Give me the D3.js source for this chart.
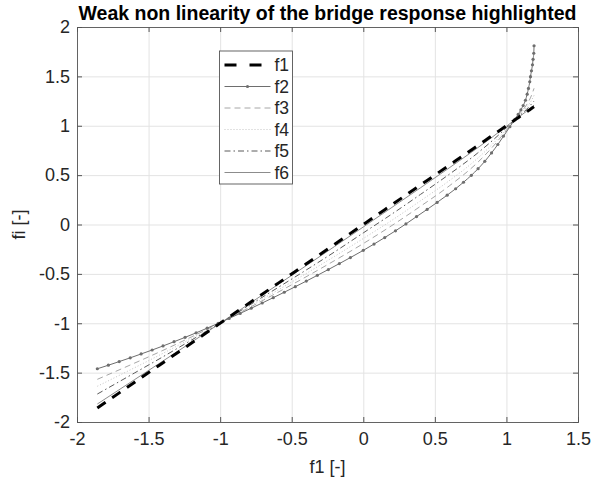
<!DOCTYPE html>
<html>
<head>
<meta charset="utf-8">
<script src="https://cdn.jsdelivr.net/npm/d3@7"></script>
<style>
  body { margin: 0; background: #fff; }
  svg { display: block; font-family: "Liberation Sans", Arial, sans-serif; }
</style>
</head>
<body>
<svg id="chart" width="600" height="483"></svg>
<script>
// f1 values (x axis) at the sampled points, f2 read at the same points
const f1 = [-1.858, -1.781, -1.705, -1.628, -1.552, -1.475, -1.399, -1.322, -1.245, -1.168,
  -1.091, -1.014, -0.937, -0.86, -0.783, -0.706, -0.629, -0.552, -0.475, -0.398,
  -0.321, -0.244, -0.167, -0.09, 0.0, 0.075, 0.15, 0.225, 0.298, 0.372,
  0.446, 0.516, 0.586, 0.645, 0.70, 0.755, 0.802, 0.849, 0.896, 0.94,
  0.98, 1.024, 1.059, 1.082, 1.101, 1.117, 1.133, 1.145, 1.154, 1.163,
  1.168, 1.175, 1.182, 1.186, 1.191, 1.193];
const f2 = [-1.461, -1.425, -1.388, -1.350, -1.311, -1.271, -1.230, -1.187, -1.143, -1.097,
  -1.050, -1.001, -0.951, -0.900, -0.848, -0.795, -0.741, -0.686, -0.630, -0.573,
  -0.515, -0.456, -0.396, -0.335, -0.262, -0.198, -0.132, -0.064, 0.006, 0.080,
  0.153, 0.224, 0.297, 0.362, 0.428, 0.498, 0.565, 0.640, 0.725, 0.810,
  0.895, 0.990, 1.065, 1.115, 1.160, 1.205, 1.258, 1.320, 1.378, 1.445,
  1.497, 1.557, 1.617, 1.673, 1.734, 1.810];

// the other curves, read on a coarser set of f1 values
const f1c = [-1.858, -1.6, -1.4, -1.2, -1.0, -0.8, -0.6, -0.4, -0.2, 0, 0.2, 0.4, 0.6, 0.8, 0.9, 1.0, 1.05, 1.1, 1.14, 1.17, 1.193];
const f3 = [-1.568, -1.405, -1.275, -1.138, -0.994, -0.845, -0.689, -0.530, -0.365, -0.193, -0.010, 0.185, 0.390, 0.630, 0.780, 0.955, 1.050, 1.135, 1.210, 1.290, 1.379];
const f4 = [-1.638, -1.452, -1.305, -1.153, -0.996, -0.834, -0.667, -0.497, -0.322, -0.142, 0.043, 0.240, 0.443, 0.672, 0.810, 0.966, 1.050, 1.122, 1.185, 1.245, 1.308];
const f5 = [-1.717, -1.505, -1.340, -1.170, -1.000, -0.821, -0.642, -0.462, -0.277, -0.085, 0.106, 0.305, 0.508, 0.725, 0.847, 0.980, 1.050, 1.112, 1.165, 1.212, 1.250];
const f6 = [-1.818, -1.573, -1.383, -1.192, -1.000, -0.806, -0.612, -0.418, -0.222, -0.025, 0.173, 0.372, 0.573, 0.778, 0.884, 0.994, 1.050, 1.103, 1.146, 1.180, 1.208];

const xTicks = [-2, -1.5, -1, -0.5, 0, 0.5, 1, 1.5];
const yTicks = [-2, -1.5, -1, -0.5, 0, 0.5, 1, 1.5, 2];

const margin = { left: 77, right: 22, top: 27, bottom: 61 };
const W = 600, H = 483;
const iw = W - margin.left - margin.right;
const ih = H - margin.top - margin.bottom;

const svg = d3.select("#chart");
const g = svg.append("g").attr("transform", `translate(${margin.left},${margin.top})`);

const x = d3.scaleLinear().domain([-2, 1.5]).range([0, iw]);
const y = d3.scaleLinear().domain([-2, 2]).range([ih, 0]);
const fmt = d => String(d);

// grid
g.append("g").attr("transform", `translate(0,${ih})`)
  .call(d3.axisBottom(x).tickValues(xTicks).tickSize(-ih).tickFormat(""))
  .call(a => a.select(".domain").remove())
  .selectAll("line").attr("stroke", "#e3e3e3");
g.append("g")
  .call(d3.axisLeft(y).tickValues(yTicks).tickSize(-iw).tickFormat(""))
  .call(a => a.select(".domain").remove())
  .selectAll("line").attr("stroke", "#e3e3e3");

// series
const styles = {
  f1: { color: "#000", width: 3, dash: "10,8" },
  f2: { color: "#6e6e6e", width: 1, dash: null },
  f3: { color: "#a6a6a6", width: 1, dash: "6,4" },
  f4: { color: "#c4c4c4", width: 1, dash: "1,2" },
  f5: { color: "#5a5a5a", width: 1, dash: "6,3,1.5,3" },
  f6: { color: "#8c8c8c", width: 1, dash: null }
};

const line = d3.line().x(d => x(d[0])).y(d => y(d[1])).curve(d3.curveMonotoneX);
const series = [
  ["f6", d3.zip(f1c, f6)],
  ["f4", d3.zip(f1c, f4)],
  ["f3", d3.zip(f1c, f3)],
  ["f5", d3.zip(f1c, f5)],
  ["f2", d3.zip(f1, f2)],
  ["f1", d3.zip(f1, f1)]
];
series.forEach(([name, pts]) => {
  const s = styles[name];
  g.append("path").datum(pts)
    .attr("fill", "none")
    .attr("stroke", s.color)
    .attr("stroke-width", s.width)
    .attr("stroke-dasharray", s.dash)
    .attr("d", line);
  if (name === "f2") {
    g.selectAll(".mk").data(pts).join("circle")
      .attr("class", "mk")
      .attr("cx", d => x(d[0])).attr("cy", d => y(d[1]))
      .attr("r", 1.6).attr("fill", s.color);
  }
});

// axes (inward ticks, box)
const axisColor = "#262626";
const axB = g.append("g").attr("transform", `translate(0,${ih})`)
  .call(d3.axisBottom(x).tickValues(xTicks).tickSize(-5).tickPadding(10).tickFormat(fmt));
const axL = g.append("g")
  .call(d3.axisLeft(y).tickValues(yTicks).tickSize(-5).tickPadding(7).tickFormat(fmt));
const axT = g.append("g")
  .call(d3.axisTop(x).tickValues(xTicks).tickSize(-5).tickFormat(""));
const axR = g.append("g").attr("transform", `translate(${iw},0)`)
  .call(d3.axisRight(y).tickValues(yTicks).tickSize(-5).tickFormat(""));
[axB, axL, axT, axR].forEach(a => {
  a.select(".domain").attr("stroke", "#555").attr("stroke-width", 0.9);
  a.selectAll("line").attr("stroke", "#555");
  a.selectAll("text").attr("fill", axisColor).style("font-size", "18px")
    .style("font-family", '"Liberation Sans", Arial, sans-serif');
});
axB.selectAll("text").attr("dy", "0.7em");

// labels
svg.append("text").attr("x", margin.left + iw / 2).attr("y", 20)
  .attr("text-anchor", "middle").attr("font-weight", "bold").attr("font-size", 19.5)
  .attr("fill", "#000").text("Weak non linearity of the bridge response highlighted");
svg.append("text").attr("x", margin.left + iw / 2).attr("y", 473)
  .attr("text-anchor", "middle").attr("font-size", 18).attr("fill", axisColor).text("f1 [-]");
svg.append("text").attr("transform", `translate(25,${margin.top + ih / 2}) rotate(-90)`)
  .attr("text-anchor", "middle").attr("font-size", 18).attr("fill", axisColor).text("fi [-]");

// legend
const names = ["f1", "f2", "f3", "f4", "f5", "f6"];
const lg = svg.append("g").attr("transform", "translate(219.5,51)");
lg.append("rect").attr("width", 73).attr("height", 133)
  .attr("fill", "#fff").attr("stroke", "#555").attr("stroke-width", 0.9);
names.forEach((n, i) => {
  const s = styles[n];
  const yy = 14 + i * 21.5;
  lg.append("line").attr("x1", 5).attr("x2", 51).attr("y1", yy).attr("y2", yy)
    .attr("stroke", s.color).attr("stroke-width", s.width)
    .attr("stroke-dasharray", n === "f1" ? "12,13" : s.dash);
  if (n === "f2") lg.append("circle").attr("cx", 28).attr("cy", yy).attr("r", 1.6).attr("fill", s.color);
  lg.append("text").attr("x", 55).attr("y", yy).attr("dy", "0.36em")
    .attr("font-size", 17.5).attr("fill", axisColor).text(n);
});
</script>
</body>
</html>
